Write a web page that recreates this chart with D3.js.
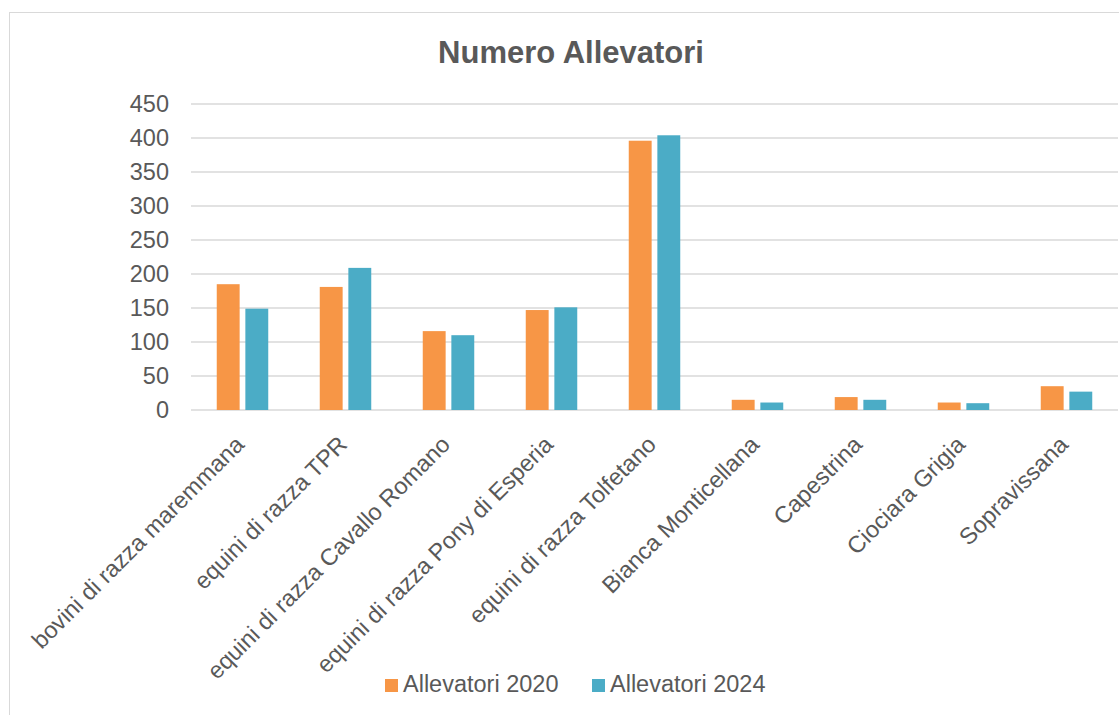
<!DOCTYPE html>
<html>
<head>
<meta charset="utf-8">
<script src="https://cdn.jsdelivr.net/npm/d3@7"></script>
<style>
  body { margin: 0; background: #fff; }
  text { font-family: "Liberation Sans", Arial, sans-serif; fill: #595959; }
</style>
</head>
<body>
<div id="chart"></div>
<script>
const categories = [
  "bovini di razza maremmana",
  "equini di razza TPR",
  "equini di razza Cavallo Romano",
  "equini di razza Pony di Esperia",
  "equini di razza Tolfetano",
  "Bianca Monticellana",
  "Capestrina",
  "Ciociara Grigia",
  "Sopravissana"
];
const seriesNames = ["Allevatori 2020", "Allevatori 2024"];
const values2020 = [185, 181, 116, 147, 396, 15, 19, 11, 35];
const values2024 = [149, 209, 110, 151, 404, 11, 15, 10, 27];
const yTicks = [0, 50, 100, 150, 200, 250, 300, 350, 400, 450];
const colors = ["#F79646", "#4BACC6"];

const width = 1119, height = 715;
const plot = { left: 191, right: 1118, top: 104, bottom: 410 };

const svg = d3.select("#chart")
  .append("svg")
    .attr("width", width)
    .attr("height", height);

// chart border
svg.append("rect")
  .attr("x", 9.5).attr("y", 12.5)
  .attr("width", 1200).attr("height", 800)
  .attr("fill", "none")
  .attr("stroke", "#d9d9d9")
  .attr("stroke-width", 1);

svg.append("text")
  .attr("x", 571)
  .attr("y", 63)
  .attr("text-anchor", "middle")
  .style("font-size", "31px")
  .style("font-weight", "bold")
  .text("Numero Allevatori");

const x = d3.scaleBand()
  .domain(categories)
  .range([plot.left, plot.right]);

const x1 = d3.scaleBand()
  .domain(seriesNames)
  .range([x.bandwidth() * 0.25, x.bandwidth() * 0.75])
  .paddingInner(0.2);

const y = d3.scaleLinear()
  .domain([0, 450])
  .range([plot.bottom, plot.top]);

// gridlines
svg.append("g")
  .selectAll("line")
  .data(yTicks)
  .join("line")
    .attr("x1", plot.left)
    .attr("x2", plot.right)
    .attr("y1", d => y(d))
    .attr("y2", d => y(d))
    .attr("stroke", "#d9d9d9")
    .attr("stroke-width", 1.5);

// y tick labels
svg.append("g")
  .selectAll("text")
  .data(yTicks)
  .join("text")
    .attr("x", 169)
    .attr("y", d => y(d))
    .attr("dy", "0.35em")
    .attr("text-anchor", "end")
    .style("font-size", "23.5px")
    .text(d => d);

const rows = categories.map((c, i) => ({ cat: c, vals: [values2020[i], values2024[i]] }));

const groups = svg.append("g")
  .selectAll("g")
  .data(rows)
  .join("g")
    .attr("transform", d => `translate(${x(d.cat)},0)`);

groups.selectAll("rect")
  .data(d => d.vals.map((v, j) => ({ name: seriesNames[j], v, j })))
  .join("rect")
    .attr("x", d => x1(d.name))
    .attr("width", x1.bandwidth())
    .attr("y", d => y(d.v))
    .attr("height", d => y(0) - y(d.v))
    .attr("fill", d => colors[d.j]);

// x labels, rotated
svg.append("g")
  .selectAll("text")
  .data(categories)
  .join("text")
    .attr("transform", d => `translate(${x(d) + x.bandwidth() / 2 + 3},446) rotate(-45)`)
    .attr("text-anchor", "end")
    .style("font-size", "23.5px")
    .text(d => d);

// legend
const legend = svg.append("g")
  .selectAll("g")
  .data(seriesNames)
  .join("g")
    .attr("transform", (d, i) => `translate(${[385, 592][i]},679)`);

legend.append("rect")
  .attr("width", 13)
  .attr("height", 13)
  .attr("fill", (d, i) => colors[i]);

legend.append("text")
  .attr("x", 18)
  .attr("y", 13)
  .style("font-size", "23.5px")
  .text(d => d);
</script>
</body>
</html>
